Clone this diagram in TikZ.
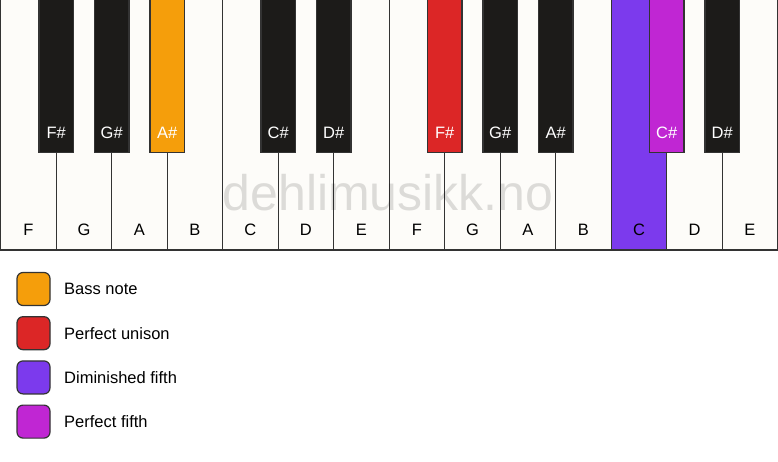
\documentclass[tikz,border=0pt]{standalone}
\usepackage{fontspec}
\setmainfont{Liberation Sans}
\usetikzlibrary{positioning}
\definecolor{keywhite}{HTML}{FDFCF9}
\definecolor{keyblack}{HTML}{1C1B19}
\definecolor{keyedge}{HTML}{333333}
\definecolor{bassorange}{HTML}{F59E0B}
\definecolor{unisonred}{HTML}{DC2626}
\definecolor{dimviolet}{HTML}{7C3AED}
\definecolor{fifthpink}{HTML}{C026D3}
\tikzset{
    whitekey/.style={draw=keyedge, line width=1.4pt, fill=keywhite},
    blackkey/.style={draw=keyedge, line width=1.2pt},
    wlabel/.style={font=\fontsize{16.5}{19}\selectfont, text=black},
    blabel/.style={font=\fontsize{16.5}{19}\selectfont, text=white},
    legendbox/.style={draw=keyedge, line width=1.2pt, rounded corners=6pt, minimum size=33pt, inner sep=0pt, outer sep=0pt},
    legendtext/.style={font=\fontsize{16.5}{19}\selectfont, inner sep=0pt, anchor=west}
}
\begin{document}
\begin{tikzpicture}[x=1pt, y=-1pt]
    \useasboundingbox [fill=white] (0,0) rectangle (778,461);
    \def\kw{55.5}
    % white keys
    \foreach \n [count=\i from 0] in {F,G,A,B,C,D,E,F,G,A,B,C,D,E} {
        \draw [whitekey] (0.7+\i*\kw, -2) rectangle ++(\kw, 252);
        \node [wlabel] (w\i) at (0.7+\i*\kw+\kw/2, 230) {\n};
    }
    \fill [dimviolet] (0.7+11*\kw, -2) rectangle ++(\kw, 252); % C
    \draw [whitekey, fill=none] (0.7+11*\kw, -2) rectangle ++(\kw, 252);
    \node [wlabel] (wc) at (0.7+11*\kw+\kw/2, 230) {C};
    % watermark
    \node [font=\fontsize{50}{55}\selectfont, text=black, opacity=0.13] (mark) at (388, 193) {dehlimusikk.no};
    % black keys
    \foreach \i/\n/\c in {0/F\#/keyblack, 1/G\#/keyblack, 2/A\#/bassorange,
                          4/C\#/keyblack, 5/D\#/keyblack, 7/F\#/unisonred,
                          8/G\#/keyblack, 9/A\#/keyblack, 11/C\#/fifthpink,
                          12/D\#/keyblack} {
        \draw [blackkey, fill=\c] (0.7+\i*\kw+\kw-17.2, -2) rectangle ++(34.4, 154.5);
        \node [blabel] (b\i) at (0.7+\i*\kw+\kw, 133) {\n};
    }
    % legend
    \node [legendbox, fill=bassorange] (bass) at (33.5, 289) {};
    \node [legendbox, fill=unisonred, below=11.2pt of bass] (unison) {};
    \node [legendbox, fill=dimviolet, below=11.2pt of unison] (dim) {};
    \node [legendbox, fill=fifthpink, below=11.2pt of dim] (fifth) {};
    \node [legendtext, right=14pt of bass] (basstext) {Bass note};
    \node [legendtext, right=14pt of unison] (unisontext) {Perfect unison};
    \node [legendtext, right=14pt of dim] (dimtext) {Diminished fifth};
    \node [legendtext, right=14pt of fifth] (fifthtext) {Perfect fifth};
\end{tikzpicture}
\end{document}
